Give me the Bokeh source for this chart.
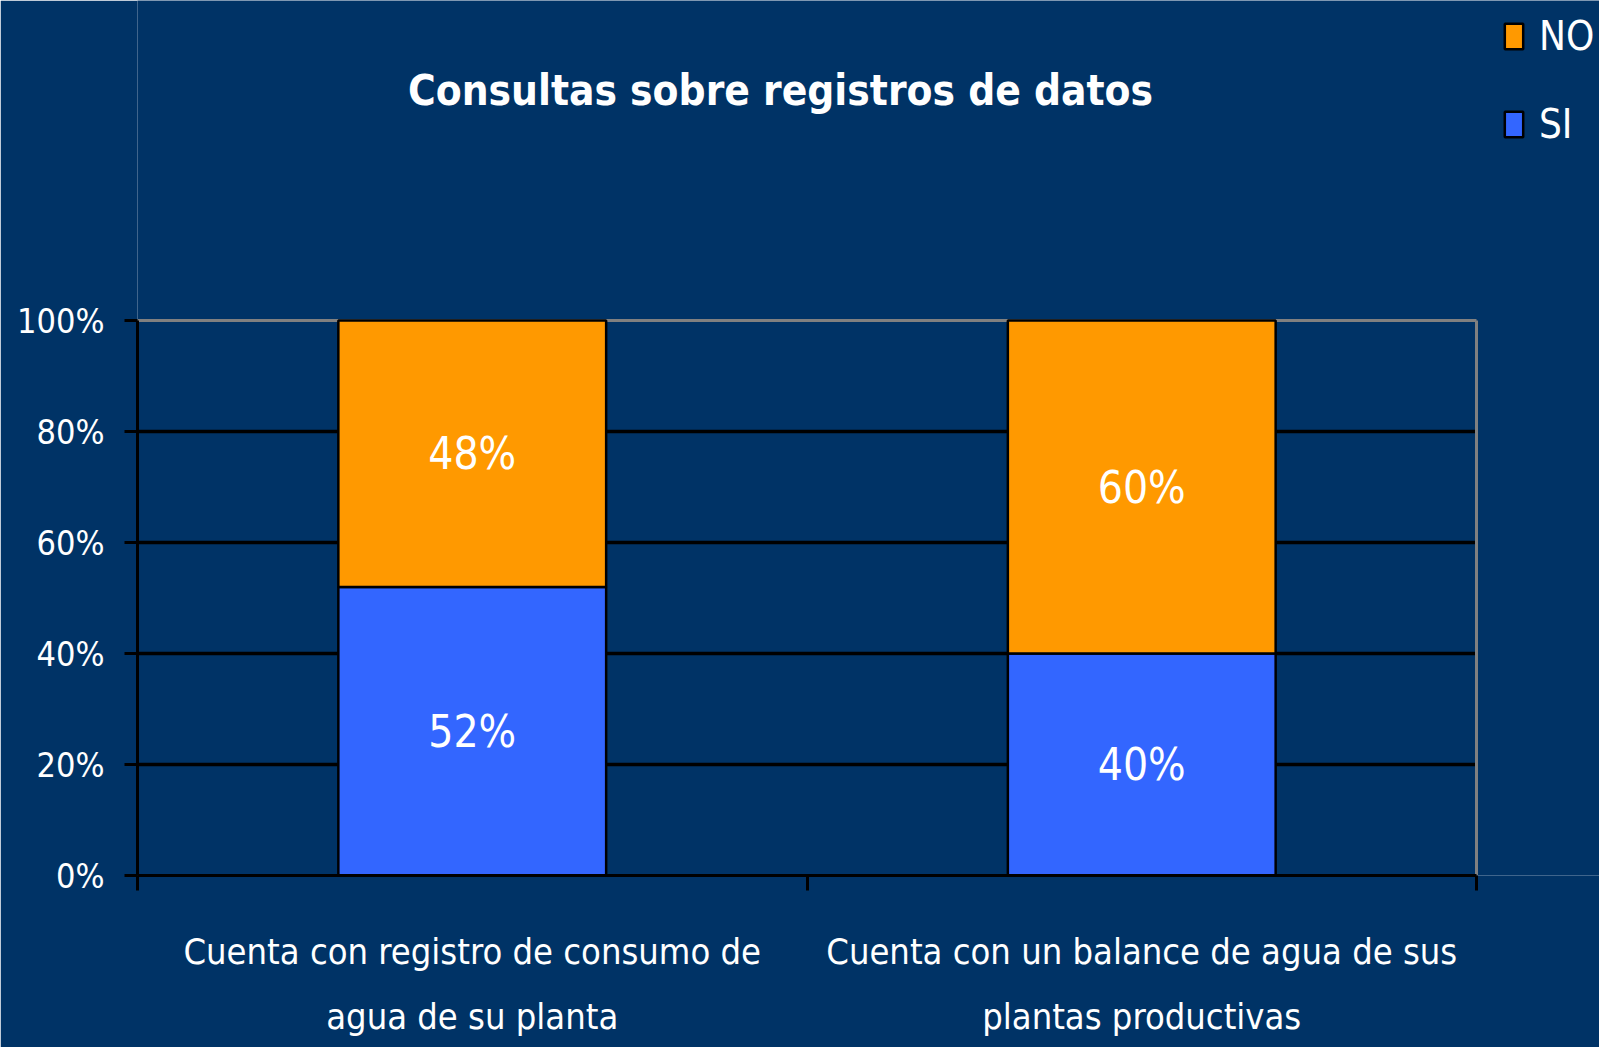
from bokeh.plotting import figure
from bokeh.models import (ColumnDataSource, FixedTicker, NumeralTickFormatter, Range1d,
                          Legend, LegendItem, Label)
from bokeh.core.properties import value
from bokeh.embed import file_html
from bokeh.resources import INLINE

# ---- data ----
categories = ["Cuenta con registro de consumo de\nagua de su planta",
              "Cuenta con un balance de agua de sus\nplantas productivas"]
si_values = [0.52, 0.40]
no_values = [0.48, 0.60]
si_labels = ["52%", "40%"]
no_labels = ["48%", "60%"]
y_ticks = [0, 0.2, 0.4, 0.6, 0.8, 1.0]
series_names = ["NO", "SI"]
title_text = "Consultas sobre registros de datos"

FONT = "DejaVu Sans Condensed"
BG = "#003366"
ORANGE = "#FF9900"
BLUE = "#3366FF"

# ---- layout (pixels) ----
W, H = 1599, 1047
PLOT_L, PLOT_R, PLOT_T, PLOT_B = 137, 1476, 320, 875   # plot area in page pixels
n = len(categories)
px_per_x = (PLOT_R - PLOT_L) / n
px_per_y = (PLOT_B - PLOT_T) / y_ticks[-1]
x_end = (W - PLOT_L) / px_per_x
y_end = PLOT_B / px_per_y

xpos = [i + 0.5 for i in range(n)]
no_bottom = si_values
no_top = [s + v for s, v in zip(si_values, no_values)]
src = ColumnDataSource(dict(
    x=xpos, si_top=si_values, no_bottom=no_bottom, no_top=no_top,
    si_mid=[s / 2 for s in si_values],
    no_mid=[b + v / 2 for b, v in zip(no_bottom, no_values)],
    si_lab=si_labels, no_lab=no_labels,
))

p = figure(width=W, height=H, output_backend="svg", toolbar_location=None,
           x_range=Range1d(0, x_end), y_range=Range1d(0, y_end),
           min_border_left=PLOT_L, min_border_right=0, min_border_top=0,
           min_border_bottom=H - PLOT_B)
p.background_fill_color = BG
p.border_fill_color = BG
p.outline_line_color = None
p.grid.grid_line_color = None

# gridlines across the plot area (between category edges 0 and n)
inner = y_ticks[1:-1]
p.segment(x0=[0] * len(inner), x1=[n] * len(inner), y0=inner, y1=inner,
          line_color="black", line_width=3.5)
# plot-area border (top and right) in grey
p.segment(x0=[0, n], x1=[n, n], y0=[y_ticks[-1], 0], y1=[y_ticks[-1], y_ticks[-1]],
          line_color="#808080", line_width=3)

si_r = p.vbar(x="x", width=0.4, bottom=0, top="si_top", source=src,
              fill_color=BLUE, line_color="black", line_width=2.5)
no_r = p.vbar(x="x", width=0.4, bottom="no_bottom", top="no_top", source=src,
              fill_color=ORANGE, line_color="black", line_width=2.5)

for ycol, tcol in (("si_mid", "si_lab"), ("no_mid", "no_lab")):
    p.text(x="x", y=ycol, text=tcol, source=src, text_color="white",
           text_font=value(FONT), text_font_size="44px",
           text_align="center", text_baseline="middle")

# title
p.add_layout(Label(x=780 - PLOT_L, y=PLOT_B - 90, x_units="screen", y_units="screen",
                   text=title_text, text_color="white", text_font=FONT,
                   text_font_style="bold", text_font_size="42px",
                   text_align="center", text_baseline="alphabetic"))

# y axis
yax = p.yaxis[0]
yax.bounds = (y_ticks[0], y_ticks[-1])
yax.ticker = FixedTicker(ticks=y_ticks, minor_ticks=[])
yax.formatter = NumeralTickFormatter(format="0%")
yax.axis_line_color = "black"
yax.axis_line_width = 3
yax.major_tick_line_color = "black"
yax.major_tick_line_width = 3
yax.major_tick_out = 13
yax.major_tick_in = 0
yax.minor_tick_line_color = None
yax.major_label_text_color = "white"
yax.major_label_text_font = FONT
yax.major_label_text_font_size = "34px"
yax.major_label_standoff = 20

# x axis: labels at category centres, tick marks at category boundaries
xax = p.xaxis[0]
xax.bounds = (0, n)
xax.ticker = FixedTicker(ticks=xpos, minor_ticks=list(range(n + 1)))
xax.major_label_overrides = {x: c for x, c in zip(xpos, categories)}
xax.axis_line_color = "black"
xax.axis_line_width = 3
xax.major_tick_line_color = None
xax.major_tick_out = 15
xax.minor_tick_line_color = "black"
xax.minor_tick_line_width = 3
xax.minor_tick_out = 15
xax.minor_tick_in = 0
xax.major_label_text_color = "white"
xax.major_label_text_font = FONT
xax.major_label_text_font_size = "36px"
xax.major_label_text_line_height = 1.6
xax.major_label_standoff = 40

legend = Legend(items=[LegendItem(label=series_names[0], renderers=[no_r]),
                       LegendItem(label=series_names[1], renderers=[si_r])],
                location=(1502 - PLOT_L, PLOT_B - 149), orientation="vertical",
                background_fill_alpha=0, border_line_color=None,
                label_text_color="white", label_text_font=FONT,
                label_text_font_size="40px", glyph_width=23, glyph_height=32,
                label_height=50, spacing=38, padding=0, margin=0, label_standoff=14)
p.add_layout(legend, "center")

open("out.html", "w").write(file_html(p, INLINE))
